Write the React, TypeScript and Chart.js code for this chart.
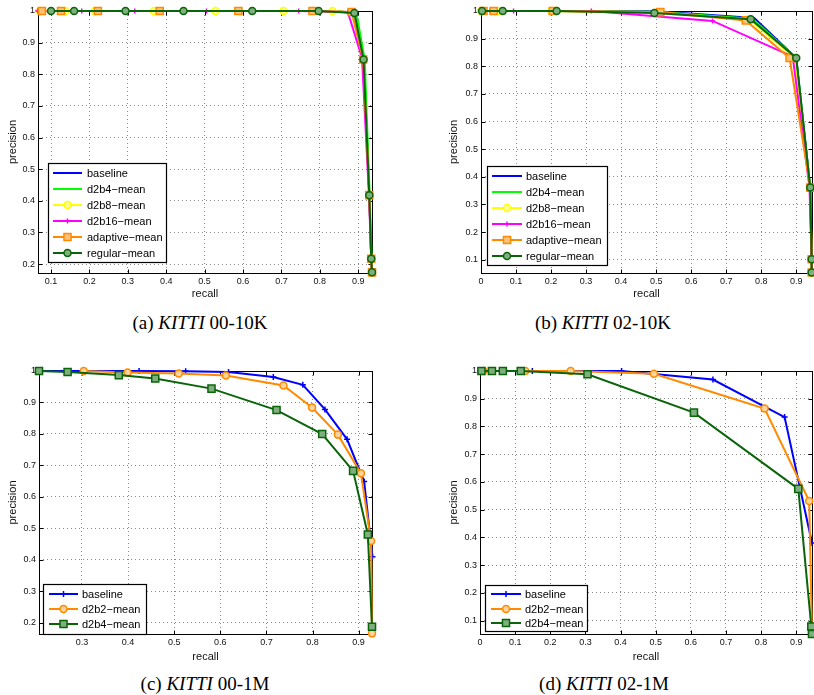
import React, { useEffect, useRef } from "react";
import { Chart, registerables } from "chart.js";
Chart.register(...registerables);

const SANS = '"Liberation Sans", Arial, Helvetica, sans-serif';
const SERIF = '"Liberation Serif", "DejaVu Serif", serif';

// ---------- (a) KITTI 00-10K ----------
const aBaselineRecall = [0.066, 0.2, 0.4, 0.6, 0.8, 0.89, 0.914, 0.929, 0.934, 0.936];
const aBaselinePrecision = [1, 1, 1, 1, 1, 0.995, 0.847, 0.418, 0.217, 0.174];
const aD2b4Recall = [0.07, 0.15, 0.3, 0.5, 0.7, 0.85, 0.896, 0.917, 0.93, 0.935, 0.936];
const aD2b4Precision = [1, 1, 1, 1, 1, 1, 0.99, 0.847, 0.418, 0.217, 0.174];
const aD2b8Recall = [0.071, 0.137, 0.214, 0.368, 0.528, 0.705, 0.833, 0.887, 0.913, 0.929, 0.934, 0.936];
const aD2b8Precision = [1, 1, 1, 1, 1, 1, 1, 0.995, 0.847, 0.418, 0.217, 0.174];
const aD2b16Recall = [0.065, 0.18, 0.318, 0.505, 0.745, 0.873, 0.91, 0.928, 0.934, 0.936];
const aD2b16Precision = [1, 1, 1, 1, 1, 0.997, 0.852, 0.42, 0.217, 0.174];
const aAdaptiveRecall = [0.076, 0.126, 0.222, 0.383, 0.588, 0.781, 0.883, 0.913, 0.929, 0.934, 0.936];
const aAdaptivePrecision = [1, 1, 1, 1, 1, 1, 0.997, 0.847, 0.418, 0.217, 0.174];
const aRegularRecall = [0.1, 0.16, 0.294, 0.445, 0.624, 0.797, 0.89, 0.914, 0.929, 0.934, 0.936];
const aRegularPrecision = [1, 1, 1, 1, 1, 1, 0.994, 0.847, 0.418, 0.217, 0.174];
const aXTicks = [0.1, 0.2, 0.3, 0.4, 0.5, 0.6, 0.7, 0.8, 0.9];
const aYTicks = [0.2, 0.3, 0.4, 0.5, 0.6, 0.7, 0.8, 0.9, 1];

// ---------- (b) KITTI 02-10K ----------
const bBaselineRecall = [0, 0.2, 0.5, 0.78, 0.9, 0.94, 0.944];
const bBaselinePrecision = [1, 1, 0.999, 0.975, 0.83, 0.36, 0.054];
const bD2b4Recall = [0, 0.2, 0.5, 0.775, 0.9, 0.94, 0.944];
const bD2b4Precision = [1, 1, 0.997, 0.972, 0.83, 0.36, 0.054];
const bD2b8Recall = [0.0, 0.05, 0.2, 0.5, 0.765, 0.895, 0.94, 0.944, 0.944];
const bD2b8Precision = [1, 1, 1, 0.994, 0.97, 0.83, 0.36, 0.1, 0.054];
const bD2b16Recall = [0.026, 0.093, 0.315, 0.661, 0.89, 0.938, 0.945];
const bD2b16Precision = [1, 1, 1, 0.964, 0.835, 0.36, 0.054];
const bAdaptiveRecall = [0.007, 0.036, 0.205, 0.512, 0.756, 0.881, 0.94, 0.944, 0.944];
const bAdaptivePrecision = [1, 1, 1, 0.996, 0.966, 0.83, 0.361, 0.102, 0.054];
const bRegularRecall = [0.003, 0.062, 0.216, 0.495, 0.77, 0.9, 0.94, 0.944, 0.944];
const bRegularPrecision = [1, 1, 1, 0.993, 0.97, 0.83, 0.361, 0.102, 0.054];
const bXTicks = [0, 0.1, 0.2, 0.3, 0.4, 0.5, 0.6, 0.7, 0.8, 0.9];
const bYTicks = [0.1, 0.2, 0.3, 0.4, 0.5, 0.6, 0.7, 0.8, 0.9, 1];

// ---------- (c) KITTI 00-1M ----------
const cBaselineRecall = [0.207, 0.3, 0.424, 0.525, 0.618, 0.715, 0.779, 0.827, 0.875, 0.912, 0.93];
const cBaselinePrecision = [1, 1, 1, 0.999, 0.997, 0.981, 0.956, 0.878, 0.783, 0.649, 0.41];
const cD2b2Recall = [0.304, 0.399, 0.51, 0.612, 0.737, 0.799, 0.855, 0.905, 0.927, 0.929];
const cD2b2Precision = [1, 0.995, 0.992, 0.986, 0.954, 0.884, 0.798, 0.675, 0.46, 0.167];
const cD2b4Recall = [0.207, 0.269, 0.38, 0.459, 0.581, 0.722, 0.821, 0.888, 0.92, 0.929];
const cD2b4Precision = [1, 0.997, 0.987, 0.976, 0.944, 0.876, 0.8, 0.683, 0.481, 0.188];
const cXTicks = [0.3, 0.4, 0.5, 0.6, 0.7, 0.8, 0.9];
const cYTicks = [0.2, 0.3, 0.4, 0.5, 0.6, 0.7, 0.8, 0.9, 1];

// ---------- (d) KITTI 02-1M ----------
const dBaselineRecall = [0, 0.149, 0.403, 0.663, 0.867, 0.945];
const dBaselinePrecision = [1, 1, 1, 0.969, 0.834, 0.38];
const dD2b2Recall = [0.01, 0.129, 0.258, 0.495, 0.81, 0.937, 0.945];
const dD2b2Precision = [1, 1, 1, 0.99, 0.865, 0.531, 0.055];
const dD2b4Recall = [0.004, 0.034, 0.065, 0.116, 0.306, 0.609, 0.906, 0.943, 0.945];
const dD2b4Precision = [1, 1, 1, 1, 0.988, 0.85, 0.575, 0.079, 0.052];
const dXTicks = [0, 0.1, 0.2, 0.3, 0.4, 0.5, 0.6, 0.7, 0.8, 0.9];
const dYTicks = [0.1, 0.2, 0.3, 0.4, 0.5, 0.6, 0.7, 0.8, 0.9, 1];

// ---------- styles ----------
const BLUE = "#0000ff";
const GREEN = "#00ff00";
const YELLOW = "#ffff00";
const MAGENTA = "#ff00ff";
const ORANGE = "#ff8a00";
const DKGREEN = "#0a640a";

type Marker = "none" | "circle" | "rect" | "cross";
type Series = { label: string; x: number[]; y: number[]; color: string; fill: string; marker: Marker; size: number };

const S = (label: string, x: number[], y: number[], color: string, fill: string, marker: Marker, size: number): Series => ({ label, x, y, color, fill, marker, size });

const panels = [
  {
    left: 0, top: 0, width: 404, height: 310,
    area: { l: 38, t: 11, r: 372, b: 273 }, yTitleX: 13, xTitleY: 294,
    xMin: 0.066, xMax: 0.936, yMin: 0.172, yMax: 1, xTicks: aXTicks, yTicks: aYTicks,
    legend: { x0: 48, y0: 163, x1: 166, y1: 262, lx0: 53, lx1: 82, tx: 87, rows: [173, 189, 205, 221, 237, 253] },
    series: [
      S("baseline", aBaselineRecall, aBaselinePrecision, BLUE, BLUE, "none", 0),
      S("d2b4\u2212mean", aD2b4Recall, aD2b4Precision, GREEN, GREEN, "none", 0),
      S("d2b8\u2212mean", aD2b8Recall, aD2b8Precision, YELLOW, "#ffff99", "circle", 3.5),
      S("d2b16\u2212mean", aD2b16Recall, aD2b16Precision, MAGENTA, MAGENTA, "cross", 2.5),
      S("adaptive\u2212mean", aAdaptiveRecall, aAdaptivePrecision, ORANGE, "#ffc27a", "rect", 5),
      S("regular\u2212mean", aRegularRecall, aRegularPrecision, DKGREEN, "#7fae7f", "circle", 3.5),
    ],
    caption: ["(a) ", "KITTI", " 00-10K"], capX: 200, capY: 322,
  },
  {
    left: 404, top: 0, width: 410, height: 310,
    area: { l: 77, t: 11, r: 408, b: 273 }, yTitleX: 50, xTitleY: 294,
    xMin: 0, xMax: 0.945, yMin: 0.052, yMax: 1, xTicks: bXTicks, yTicks: bYTicks,
    legend: { x0: 83, y0: 166, x1: 203, y1: 265, lx0: 88, lx1: 118, tx: 122, rows: [176, 192, 208, 224, 240, 256] },
    series: [
      S("baseline", bBaselineRecall, bBaselinePrecision, BLUE, BLUE, "none", 0),
      S("d2b4\u2212mean", bD2b4Recall, bD2b4Precision, GREEN, GREEN, "none", 0),
      S("d2b8\u2212mean", bD2b8Recall, bD2b8Precision, YELLOW, "#ffff99", "circle", 3.5),
      S("d2b16\u2212mean", bD2b16Recall, bD2b16Precision, MAGENTA, MAGENTA, "cross", 2.5),
      S("adaptive\u2212mean", bAdaptiveRecall, bAdaptivePrecision, ORANGE, "#ffc27a", "rect", 5),
      S("regular\u2212mean", bRegularRecall, bRegularPrecision, DKGREEN, "#7fae7f", "circle", 3.5),
    ],
    caption: ["(b) ", "KITTI", " 02-10K"], capX: 603, capY: 322,
  },
  {
    left: 0, top: 355, width: 404, height: 310,
    area: { l: 39, t: 16, r: 372, b: 279 }, yTitleX: 13, xTitleY: 302,
    xMin: 0.207, xMax: 0.929, yMin: 0.165, yMax: 1, xTicks: cXTicks, yTicks: cYTicks,
    legend: { x0: 43, y0: 229, x1: 146, y1: 279, lx0: 49, lx1: 78, tx: 82, rows: [239, 254, 269] },
    series: [
      S("baseline", cBaselineRecall, cBaselinePrecision, BLUE, BLUE, "cross", 3),
      S("d2b2\u2212mean", cD2b2Recall, cD2b2Precision, ORANGE, "#ffd49e", "circle", 3.5),
      S("d2b4\u2212mean", cD2b4Recall, cD2b4Precision, DKGREEN, "#7fae7f", "rect", 5),
    ],
    caption: ["(c) ", "KITTI", " 00-1M"], capX: 205, capY: 683,
  },
  {
    left: 404, top: 355, width: 410, height: 310,
    area: { l: 76, t: 16, r: 408, b: 279 }, yTitleX: 50, xTitleY: 302,
    xMin: 0, xMax: 0.945, yMin: 0.052, yMax: 1, xTicks: dXTicks, yTicks: dYTicks,
    legend: { x0: 81, y0: 230, x1: 183, y1: 276, lx0: 87, lx1: 117, tx: 121, rows: [239, 254, 268] },
    series: [
      S("baseline", dBaselineRecall, dBaselinePrecision, BLUE, BLUE, "cross", 3),
      S("d2b2\u2212mean", dD2b2Recall, dD2b2Precision, ORANGE, "#ffd49e", "circle", 3.5),
      S("d2b4\u2212mean", dD2b4Recall, dD2b4Precision, DKGREEN, "#7fae7f", "rect", 5),
    ],
    caption: ["(d) ", "KITTI", " 02-1M"], capX: 604, capY: 683,
  },
];

function fmtTick(v: number) {
  if (Math.abs(v - 1) < 1e-9) return "1";
  if (Math.abs(v) < 1e-9) return "0";
  return v.toFixed(1);
}

function drawMarker(ctx: CanvasRenderingContext2D, m: Marker, x: number, y: number, r: number, stroke: string, fill: string) {
  if (m === "none") return;
  ctx.save();
  ctx.strokeStyle = stroke;
  ctx.fillStyle = fill;
  ctx.lineWidth = 1.5;
  ctx.beginPath();
  if (m === "circle") {
    ctx.arc(x, y, r, 0, Math.PI * 2);
    ctx.fill();
    ctx.stroke();
  } else if (m === "rect") {
    const s = r * Math.SQRT1_2;
    ctx.rect(x - s, y - s, 2 * s, 2 * s);
    ctx.fill();
    ctx.stroke();
  } else if (m === "cross") {
    ctx.moveTo(x - r, y);
    ctx.lineTo(x + r, y);
    ctx.moveTo(x, y - r);
    ctx.lineTo(x, y + r);
    ctx.stroke();
  }
  ctx.restore();
}

const boxPlugin = {
  id: "matlabBox",
  beforeDatasetsDraw(chart: any) {
    const { ctx, chartArea: a, scales } = chart;
    const L = Math.round(a.left) + 0.5, T = Math.round(a.top) + 0.5;
    const R = Math.round(a.right) + 0.5, B = Math.round(a.bottom) + 0.5;
    ctx.save();
    ctx.strokeStyle = "#000";
    ctx.lineWidth = 1;
    ctx.strokeRect(L, T, R - L, B - T);
    const tl = 4;
    ctx.beginPath();
    for (const t of scales.x.ticks) {
      const px = Math.round(scales.x.getPixelForValue(t.value)) + 0.5;
      ctx.moveTo(px, B); ctx.lineTo(px, B - tl);
      ctx.moveTo(px, T); ctx.lineTo(px, T + tl);
    }
    for (const t of scales.y.ticks) {
      const py = Math.round(scales.y.getPixelForValue(t.value)) + 0.5;
      ctx.moveTo(L, py); ctx.lineTo(L + tl, py);
      ctx.moveTo(R, py); ctx.lineTo(R - tl, py);
    }
    ctx.stroke();
    ctx.restore();
  },
};

function makeLegendPlugin(lg: any, series: Series[]) {
  return {
    id: "matlabLegend",
    afterDatasetsDraw(chart: any) {
      const ctx: CanvasRenderingContext2D = chart.ctx;
      ctx.save();
      ctx.fillStyle = "#fff";
      ctx.fillRect(lg.x0, lg.y0, lg.x1 - lg.x0, lg.y1 - lg.y0);
      ctx.strokeStyle = "#000";
      ctx.lineWidth = 1.2;
      ctx.strokeRect(lg.x0 + 0.5, lg.y0 + 0.5, lg.x1 - lg.x0, lg.y1 - lg.y0);
      ctx.font = `11px ${SANS}`;
      ctx.textBaseline = "middle";
      ctx.textAlign = "left";
      series.forEach((s, i) => {
        const y = lg.rows[i];
        ctx.strokeStyle = s.color;
        ctx.lineWidth = 2;
        ctx.beginPath();
        ctx.moveTo(lg.lx0, y);
        ctx.lineTo(lg.lx1, y);
        ctx.stroke();
        drawMarker(ctx, s.marker, (lg.lx0 + lg.lx1) / 2, y, s.size, s.color, s.fill);
        ctx.fillStyle = "#000";
        ctx.fillText(s.label, lg.tx, y + 0.5);
      });
      ctx.restore();
    },
  };
}

function buildConfig(p: any): any {
  const n = p.series.length;
  const datasets = p.series.map((s: Series, i: number) => ({
    label: s.label,
    data: s.x.map((x, k) => ({ x, y: s.y[k] })),
    showLine: true,
    borderColor: s.color,
    backgroundColor: s.fill,
    borderWidth: 2,
    pointStyle: s.marker === "none" ? "circle" : s.marker,
    pointRadius: s.marker === "none" ? 0 : s.size,
    pointBorderColor: s.color,
    pointBackgroundColor: s.fill,
    pointBorderWidth: 1.5,
    pointHoverRadius: 0,
    tension: 0,
    clip: false,
    order: n - i,
  }));
  const tickFont = { family: SANS, size: 9 };
  const titleFont = { family: SANS, size: 11, lineHeight: 1.2 };
  const yWidth = p.area.l;
  const xHeight = p.height - p.area.b;
  return {
    type: "scatter",
    data: { datasets },
    plugins: [boxPlugin, makeLegendPlugin(p.legend, p.series)],
    options: {
      responsive: false,
      animation: false,
      devicePixelRatio: 1,
      events: [],
      layout: {
        autoPadding: false,
        padding: { left: 0, top: p.area.t, right: p.width - p.area.r, bottom: 0 },
      },
      plugins: { legend: { display: false }, tooltip: { enabled: false }, title: { display: false } },
      scales: {
        x: {
          type: "linear",
          min: p.xMin,
          max: p.xMax,
          afterBuildTicks: (sc: any) => { sc.ticks = p.xTicks.map((v: number) => ({ value: v })); },
          afterFit: (sc: any) => { sc.height = xHeight; sc.paddingLeft = 0; sc.paddingRight = 0; },
          ticks: { callback: (v: any) => fmtTick(Number(v)), font: tickFont, color: "#111", padding: 3, maxRotation: 0, autoSkip: false },
          grid: { drawTicks: false, color: "#8a8a8a", lineWidth: 1 },
          border: { display: false, dash: [1, 3] },
          title: { display: true, text: "recall", font: titleFont, color: "#111", padding: { top: 0, bottom: p.height - p.xTitleY - 6.6 } },
        },
        y: {
          type: "linear",
          min: p.yMin,
          max: p.yMax,
          afterBuildTicks: (sc: any) => { sc.ticks = p.yTicks.map((v: number) => ({ value: v })); },
          afterFit: (sc: any) => { sc.width = yWidth; sc.paddingTop = 0; sc.paddingBottom = 0; },
          ticks: { callback: (v: any) => fmtTick(Number(v)), font: tickFont, color: "#111", padding: 3, autoSkip: false },
          grid: { drawTicks: false, color: "#8a8a8a", lineWidth: 1 },
          border: { display: false, dash: [1, 3] },
          title: { display: true, text: "precision", font: titleFont, color: "#111", padding: { top: p.yTitleX - 6.6, bottom: 0 } },
        },
      },
    },
  };
}

function Panel({ p }: { p: any }) {
  const ref = useRef<HTMLCanvasElement>(null);
  useEffect(() => {
    if (!ref.current) return;
    const chart = new Chart(ref.current, buildConfig(p));
    return () => chart.destroy();
  }, [p]);
  return (
    <div style={{ position: "absolute", left: p.left, top: p.top, width: p.width, height: p.height }}>
      <canvas ref={ref} width={p.width} height={p.height} style={{ width: p.width, height: p.height, display: "block" }} />
    </div>
  );
}

function Caption({ p }: { p: any }) {
  return (
    <div
      style={{
        position: "absolute",
        left: p.capX,
        top: p.capY,
        transform: "translate(-50%, -50%)",
        whiteSpace: "nowrap",
        fontFamily: SERIF,
        fontSize: 19,
        color: "#000",
        lineHeight: 1,
      }}
    >
      {p.caption[0]}
      <i>{p.caption[1]}</i>
      {p.caption[2]}
    </div>
  );
}

export default function App() {
  return (
    <div style={{ position: "fixed", left: 0, top: 0, width: 814, height: 695, background: "#fff", overflow: "hidden" }}>
      {panels.map((p, i) => (
        <Panel key={i} p={p} />
      ))}
      {panels.map((p, i) => (
        <Caption key={"c" + i} p={p} />
      ))}
    </div>
  );
}
